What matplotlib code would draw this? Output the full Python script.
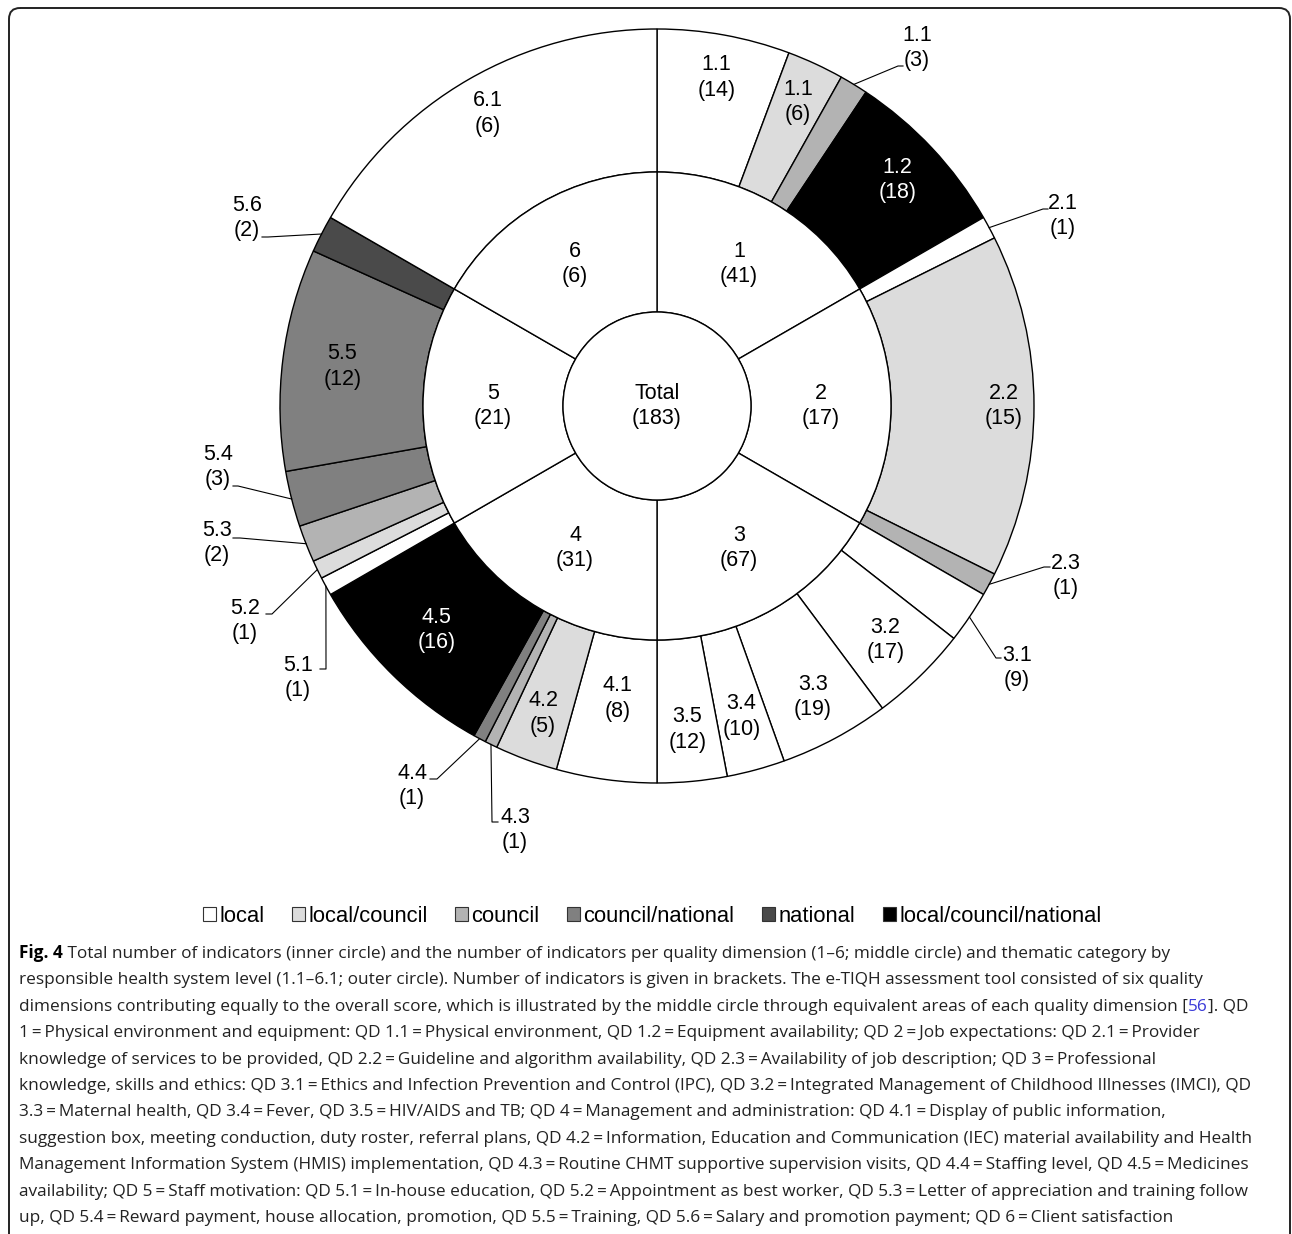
import matplotlib.pyplot as plt
from matplotlib.patches import Patch, FancyBboxPatch
import numpy as np

W, H = 1292, 1234

# quality dimensions (middle circle)
qd_labels = ["1", "2", "3", "4", "5", "6"]
qd_counts = [41, 17, 67, 31, 21, 6]
qd_weights = [1, 1, 1, 1, 1, 1]  # equal areas per dimension
total_count = 183

# thematic categories (outer circle)
sub_labels = ["1.1", "1.1", "1.1", "1.2",
              "2.1", "2.2", "2.3",
              "3.1", "3.2", "3.3", "3.4", "3.5",
              "4.1", "4.2", "4.3", "4.4", "4.5",
              "5.1", "5.2", "5.3", "5.4", "5.5", "5.6",
              "6.1"]
sub_counts = [14, 6, 3, 18,
              1, 15, 1,
              9, 17, 19, 10, 12,
              8, 5, 1, 1, 16,
              1, 1, 2, 3, 12, 2,
              6]
sub_qd = [0, 0, 0, 0,
          1, 1, 1,
          2, 2, 2, 2, 2,
          3, 3, 3, 3, 3,
          4, 4, 4, 4, 4, 4,
          5]
sub_levels = ["local", "local/council", "council", "local/council/national",
              "local", "local/council", "council",
              "local", "local", "local", "local", "local",
              "local", "local/council", "council", "council/national", "local/council/national",
              "local", "local/council", "council", "council/national", "council/national", "national",
              "local"]

levels = ["local", "local/council", "council", "council/national", "national",
          "local/council/national"]
level_colors = {"local": "#ffffff", "local/council": "#dcdcdc", "council": "#b3b3b3",
                "council/national": "#808080", "national": "#4a4a4a",
                "local/council/national": "#000000"}

caption_lines = [
    " Total number of indicators (inner circle) and the number of indicators per quality dimension (1\u20136; middle circle) and thematic category by",
    "responsible health system level (1.1\u20136.1; outer circle). Number of indicators is given in brackets. The e-TIQH assessment tool consisted of six quality",
    "dimensions contributing equally to the overall score, which is illustrated by the middle circle through equivalent areas of each quality dimension ",
    "1 = Physical environment and equipment: QD 1.1 = Physical environment, QD 1.2 = Equipment availability; QD 2 = Job expectations: QD 2.1 = Provider",
    "knowledge of services to be provided, QD 2.2 = Guideline and algorithm availability, QD 2.3 = Availability of job description; QD 3 = Professional",
    "knowledge, skills and ethics: QD 3.1 = Ethics and Infection Prevention and Control (IPC), QD 3.2 = Integrated Management of Childhood Illnesses (IMCI), QD",
    "3.3 = Maternal health, QD 3.4 = Fever, QD 3.5 = HIV/AIDS and TB; QD 4 = Management and administration: QD 4.1 = Display of public information,",
    "suggestion box, meeting conduction, duty roster, referral plans, QD 4.2 = Information, Education and Communication (IEC) material availability and Health",
    "Management Information System (HMIS) implementation, QD 4.3 = Routine CHMT supportive supervision visits, QD 4.4 = Staffing level, QD 4.5 = Medicines",
    "availability; QD 5 = Staff motivation: QD 5.1 = In-house education, QD 5.2 = Appointment as best worker, QD 5.3 = Letter of appreciation and training follow",
    "up, QD 5.4 = Reward payment, house allocation, promotion, QD 5.5 = Training, QD 5.6 = Salary and promotion payment; QD 6 = Client satisfaction",
]
# where each caption line ends in the reference (px)
caption_ends = [1198, 1203, 1262, 1234, 1181, 1273, 1197, 1262, 1271, 1275, 1222]

# layout
cx, cy = 657, 406
r_in, r_mid, r_out = 94, 234, 377
label_font = "Liberation Sans"
cap_font = ["Open Sans", "DejaVu Sans"]
cap_x = 19
fs = 15.5
gap = 25.5

# radius of labels drawn inside outer wedges (None -> callout)
label_r = [334, 335, None, 330,
           None, 347, None,
           None, 327, 330, 322, 325,
           295, 328, None, None, 314,
           None, None, None, None, 317, None,
           338]
# callouts: text centre x, y, knee x, y, end x, y
callouts = {
    2: (917, 48, 898, 66, 903, 66),
    4: (1063, 216, 1043, 209, 1048, 209),
    6: (1066, 576, 1044, 567, 1050, 567),
    7: (1017, 668, 996, 658, 1001, 658),
    14: (515, 830, 492, 822, 498, 822),
    15: (412, 786, 437, 779, 430, 779),
    17: (298, 678, 326, 669, 320, 669),
    18: (245, 621, 272, 614, 266, 614),
    19: (217, 543, 240, 538, 233, 538),
    20: (218, 467, 238, 486, 233, 486),
    22: (247, 218, 268, 237, 262, 237),
}


def polar(theta, r):
    t = np.deg2rad(theta)
    return cx + r * np.cos(t), cy + r * np.sin(t)


def two_line(ax, x, y, a, b, color="black"):
    ax.text(x, y - gap / 2, a, ha="center", va="center", fontsize=fs,
            family=label_font, color=color)
    ax.text(x, y + gap / 2, b, ha="center", va="center", fontsize=fs,
            family=label_font, color=color)


def main():
    fig = plt.figure(figsize=(W / 100, H / 100), dpi=100)
    ax = fig.add_axes([0, 0, 1, 1])

    edge = dict(edgecolor="black", linewidth=1.0)
    weights = [c / qd_counts[q] for c, q in zip(sub_counts, sub_qd)]
    # y axis is inverted below, so startangle -90 + counterclock = clockwise from top
    outer, _ = ax.pie(weights, radius=r_out, center=(cx, cy), startangle=-90,
                      counterclock=True, colors=[level_colors[l] for l in sub_levels],
                      wedgeprops=dict(width=r_out - r_mid, **edge))
    middle, _ = ax.pie(qd_weights, radius=r_mid, center=(cx, cy), startangle=-90,
                       counterclock=True, colors=["white"] * 6,
                       wedgeprops=dict(width=r_mid - r_in, **edge))
    ax.pie([total_count], radius=r_in, center=(cx, cy), colors=["white"],
           wedgeprops=edge)

    ax.set_xlim(0, W)
    ax.set_ylim(H, 0)
    ax.set_aspect("auto")
    ax.axis("off")

    two_line(ax, cx, cy, "Total", f"({total_count})")
    for w, name, n in zip(middle, qd_labels, qd_counts):
        m = (w.theta1 + w.theta2) / 2
        x, y = polar(m, (r_in + r_mid) / 2)
        two_line(ax, x, y, name, f"({n})")

    for i, w in enumerate(outer):
        m = (w.theta1 + w.theta2) / 2
        col = "white" if sub_levels[i] == "local/council/national" else "black"
        if i in callouts:
            tx, ty, kx, ky, ex, ey = callouts[i]
            px, py = polar(m, r_out)
            ax.plot([px, kx, ex], [py, ky, ey], color="black", lw=0.8)
            two_line(ax, tx, ty, sub_labels[i], f"({sub_counts[i]})")
        else:
            x, y = polar(m, label_r[i])
            two_line(ax, x, y, sub_labels[i], f"({sub_counts[i]})", col)

    # legend
    handles = [Patch(facecolor=level_colors[l], edgecolor="#333333", linewidth=0.8)
               for l in levels]
    fig.legend(handles, levels, loc="center", bbox_to_anchor=(652 / W, 1 - 916 / H),
               ncol=6, frameon=False, handlelength=0.6, handleheight=0.6,
               handletextpad=0.15, columnspacing=1.25,
               prop=dict(family=label_font, size=15.8))

    # caption: narrow spaces around "=", size fitted so no line runs past the reference
    lines = [l.replace(" = ", "\u2009=\u2009") for l in caption_lines]
    full = ["Fig. 4" + lines[0]] + lines[1:2] + [lines[2] + "[56]. QD"] + lines[3:]
    renderer = fig.canvas.get_renderer()
    sizes = []
    for text, end in zip(full, caption_ends):
        probe = ax.text(0, 0, text, fontsize=10, family=cap_font)
        sizes.append(10 * (end - cap_x) / probe.get_window_extent(renderer).width)
        probe.remove()
    cap_size = min(sizes)

    def caption_line(y, pieces):
        prev = None
        for text, weight, color in pieces:
            kw = dict(fontsize=cap_size, family=cap_font, fontweight=weight, color=color)
            if prev is None:
                prev = ax.text(cap_x, y, text, ha="left", va="baseline", **kw)
            else:
                prev = ax.annotate(text, xy=(1, 0), xycoords=prev, ha="left",
                                   va="bottom", **kw)

    for i, line in enumerate(lines):
        y = 958 + 26.4 * i
        if i == 0:
            caption_line(y, [("Fig. 4", "bold", "black"), (line, "normal", "#222222")])
        elif i == 2:
            caption_line(y, [(line + "[", "normal", "#222222"), ("56", "normal", "#3a3ad8"),
                             ("]. QD", "normal", "#222222")])
        else:
            caption_line(y, [(line, "normal", "#222222")])

    frame = FancyBboxPatch((9, 8), 1281, 1250, boxstyle="round,pad=0,rounding_size=11",
                           fill=False, edgecolor="#222222", linewidth=1.4, clip_on=False)
    ax.add_patch(frame)

    fig.savefig("out.png", dpi=100, facecolor="white")


if __name__ == "__main__":
    main()
